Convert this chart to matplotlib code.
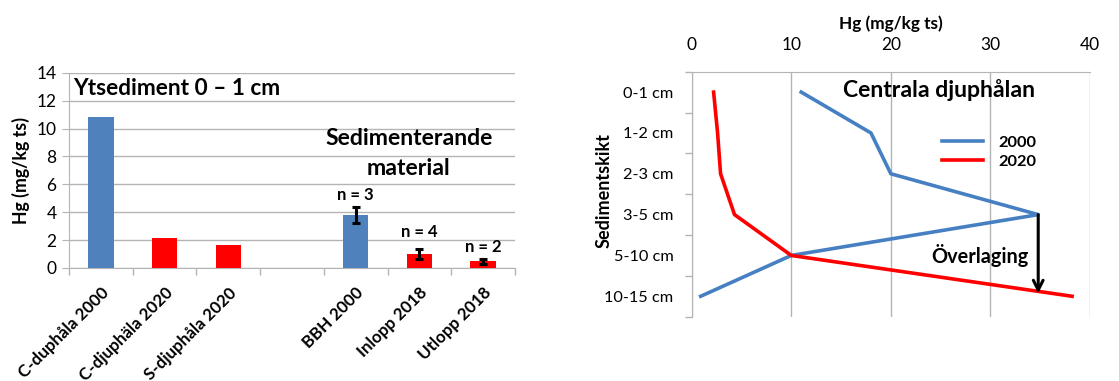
import matplotlib
matplotlib.use("Agg")
import matplotlib.pyplot as plt
import numpy as np

plt.rcParams['font.family'] = ['Lato', 'DejaVu Sans']

# ---- Left chart data ----
bar_labels = ["C-duphåla 2000", "C-djuphäla 2020", "S-djuphåla 2020", "",
              "BBH 2000", "Inlopp 2018", "Utlopp 2018"]
bar_values = [10.8, 2.15, 1.68, np.nan, 3.8, 1.0, 0.5]
bar_colors = ["#4F81BD", "#FF0000", "#FF0000", "#FFFFFF", "#4F81BD", "#FF0000", "#FF0000"]
err_index = [4, 5, 6]
err_values = [0.57, 0.38, 0.18]
n_labels = ["n = 3", "n = 4", "n = 2"]
n_label_y = [5.2, 2.6, 1.5]

# ---- Right chart data ----
layers = ["0-1 cm", "1-2 cm", "2-3 cm", "3-5 cm", "5-10 cm", "10-15 cm"]
hg_2000 = [11.0, 18.0, 20.0, 34.8, 10.0, 0.9]
hg_2020 = [2.2, 2.6, 2.9, 4.3, 10.0, 38.2]

GRID = "#B4B4B4"
BLUE = "#4F81BD"
LINE_BLUE = "#4680C2"
RED = "#FF0000"

fig = plt.figure(figsize=(11.19, 3.81), dpi=100)

# ================= Left =================
ax = fig.add_axes([69/1119, 1-268/381, (515-69)/1119, (268-72.7)/381])
x = np.arange(len(bar_labels))
ax.bar(x, bar_values, width=0.4, color=bar_colors, zorder=3)
ax.errorbar([x[i] for i in err_index], [bar_values[i] for i in err_index],
            yerr=err_values, fmt='none', ecolor='black', elinewidth=2.2,
            capsize=3, capthick=2.2, zorder=4)
for i, lab, yy in zip(err_index, n_labels, n_label_y):
    ax.text(x[i], yy, lab, ha='center', va='center', fontsize=12, fontweight='bold')
ax.set_xlim(-0.5, len(bar_labels) - 0.5)
ax.set_ylim(0, 14)
ax.set_yticks(np.arange(0, 15, 2))
ax.yaxis.grid(True, color=GRID, linewidth=1, zorder=0)
ax.set_axisbelow(True)
ax.set_xticks(x)
ax.set_xticklabels(bar_labels, rotation=45, ha='right', va='top',
                   rotation_mode='anchor', fontsize=12.2, fontweight='bold')
ax.set_xticks(np.arange(-0.5, len(bar_labels)), minor=True)
ax.tick_params(axis='x', which='major', length=0, pad=12)
ax.tick_params(axis='x', which='minor', length=5, color=GRID, width=1)
ax.tick_params(axis='y', length=5, color=GRID, labelsize=12.5, pad=4)
for s in ['top', 'right']:
    ax.spines[s].set_visible(False)
for s in ['left', 'bottom']:
    ax.spines[s].set_color(GRID)
ax.set_ylabel("Hg (mg/kg ts)", fontsize=12.8, fontweight='bold')
ax.yaxis.set_label_coords(-0.088, 0.5)
ax.text(0.01, 0.92, "Ytsediment 0 – 1 cm", transform=ax.transAxes,
        ha='left', va='center', fontsize=16.3, fontweight='bold')
ax.text(0.762, 0.586, "Sedimenterande\nmaterial", transform=ax.transAxes,
        ha='center', va='center', fontsize=16.6, fontweight='bold', linespacing=1.55)

# ================= Right =================
ax2 = fig.add_axes([691.7/1119, 1-316.7/381, (1090-691.7)/1119, (316.7-71.7)/381])
y = np.arange(len(layers))
ax2.plot(hg_2000, y, color=LINE_BLUE, linewidth=2.6, label="2000", zorder=3)
ax2.plot(hg_2020, y, color=RED, linewidth=2.6, label="2020", zorder=3)
ax2.set_xlim(0, 40)
ax2.set_ylim(len(layers) - 0.5, -0.5)
ax2.set_xticks(np.arange(0, 41, 10))
ax2.xaxis.tick_top()
ax2.xaxis.set_label_position('top')
ax2.xaxis.grid(True, color=GRID, linewidth=1, zorder=0)
ax2.set_axisbelow(True)
ax2.tick_params(axis='x', length=0, labelsize=12.5, pad=13.5)
ax2.set_yticks(y)
ax2.set_yticklabels(layers, fontsize=11.8)
ax2.set_yticks(np.arange(-0.5, len(layers)), minor=True)
ax2.tick_params(axis='y', which='major', length=0, pad=13)
ax2.tick_params(axis='y', which='minor', length=5, color=GRID, width=1)
for s in ['bottom', 'right']:
    ax2.spines[s].set_visible(False)
for s in ['left', 'top']:
    ax2.spines[s].set_color(GRID)
ax2.set_xlabel("Hg (mg/kg ts)", fontsize=12.4, fontweight='bold')
ax2.xaxis.set_label_coords(0.5, 1.175)
ax2.set_ylabel("Sedimentskikt", fontsize=13, fontweight='bold')
ax2.yaxis.set_label_coords(-0.198, 0.515)
ax2.text(0.621, 0.925, "Centrala djuphålan", transform=ax2.transAxes,
         ha='center', va='center', fontsize=16.6, fontweight='bold')
ax2.text(0.724, 0.248, "Överlaging", transform=ax2.transAxes,
         ha='center', va='center', fontsize=14.3, fontweight='bold')
ax2.annotate("", xy=(hg_2000[3], 4.93), xytext=(hg_2000[3], 3.0),
             arrowprops=dict(arrowstyle='->,head_width=0.35,head_length=0.7',
                             color='black', lw=2.2,
                             shrinkA=0, shrinkB=0), zorder=5)
leg = ax2.legend(loc='center left', bbox_to_anchor=(0.628, 0.672), frameon=False,
                 fontsize=11.8, handlelength=2.5, handletextpad=0.94, labelspacing=0.25,
                 borderaxespad=0, borderpad=0)
for t in leg.get_texts():
    t.set_fontweight('bold')

fig.savefig("out.png", dpi=100)
